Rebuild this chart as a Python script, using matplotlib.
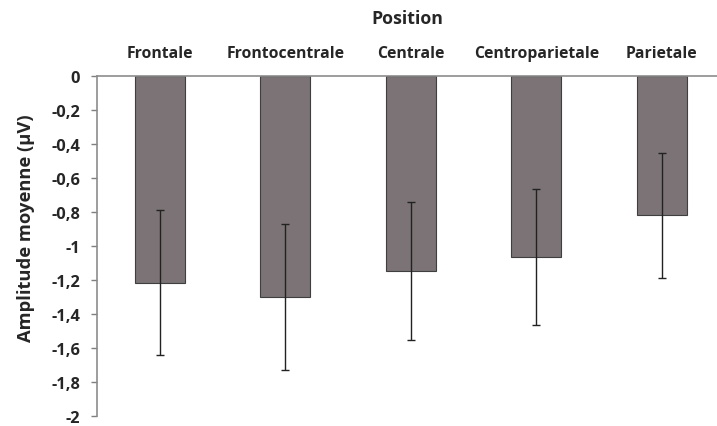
import numpy as np
import matplotlib
matplotlib.use("Agg")
import matplotlib.pyplot as plt
from matplotlib.ticker import FuncFormatter

positions = ["Frontale", "Frontocentrale", "Centrale", "Centroparietale", "Parietale"]
amplitude = [-1.215, -1.30, -1.145, -1.066, -0.82]
erreur = [0.425, 0.43, 0.405, 0.40, 0.37]

plt.rcParams["font.family"] = ["Open Sans", "DejaVu Sans"]
plt.rcParams["font.weight"] = "bold"

fig = plt.figure(figsize=(7.17, 4.27), dpi=100)
ax = fig.add_axes([97 / 717, 10 / 427, 620 / 717, 340 / 427])

x = np.arange(len(positions))
ax.bar(x, amplitude, width=0.4, color="#7b7375", edgecolor="#3f3f3f", linewidth=0.8,
       yerr=erreur, error_kw=dict(ecolor="#222222", elinewidth=1.0, capsize=3, capthick=1.0))

ax.set_ylim(-2, 0)
ax.set_xlim(-0.5, 4.44)
ax.set_yticks(np.arange(-2, 0.01, 0.2))
ax.yaxis.set_major_formatter(FuncFormatter(
    lambda v, p: "0" if abs(v) < 1e-9 else ("%g" % round(v, 1)).replace(".", ",")))

ax.xaxis.tick_top()
ax.xaxis.set_label_position("top")
ax.set_xticks(x)
ax.set_xticklabels(positions, fontsize=11.3, fontweight="bold", color="#262626")
ax.tick_params(axis="x", length=0, pad=11)
ax.tick_params(axis="y", length=4, width=1, color="#7f7f7f", labelsize=11.8,
               labelcolor="#262626", pad=8)
for lab in ax.get_yticklabels():
    lab.set_fontweight("bold")

ax.set_xlabel("Position", fontsize=12.8, fontweight="bold", color="#262626", labelpad=16)
ax.set_ylabel("Amplitude moyenne (\u00b5V)", fontsize=13.2, fontweight="bold",
              color="#262626")
ax.yaxis.set_label_coords(-0.100, 0.554)

ax.spines["bottom"].set_visible(False)
ax.spines["right"].set_visible(False)
ax.spines["top"].set_color("#8c8c8c")
ax.spines["top"].set_linewidth(1.2)
ax.spines["left"].set_color("#8c8c8c")
ax.spines["left"].set_linewidth(1.2)

fig.savefig("out.png", dpi=100)
